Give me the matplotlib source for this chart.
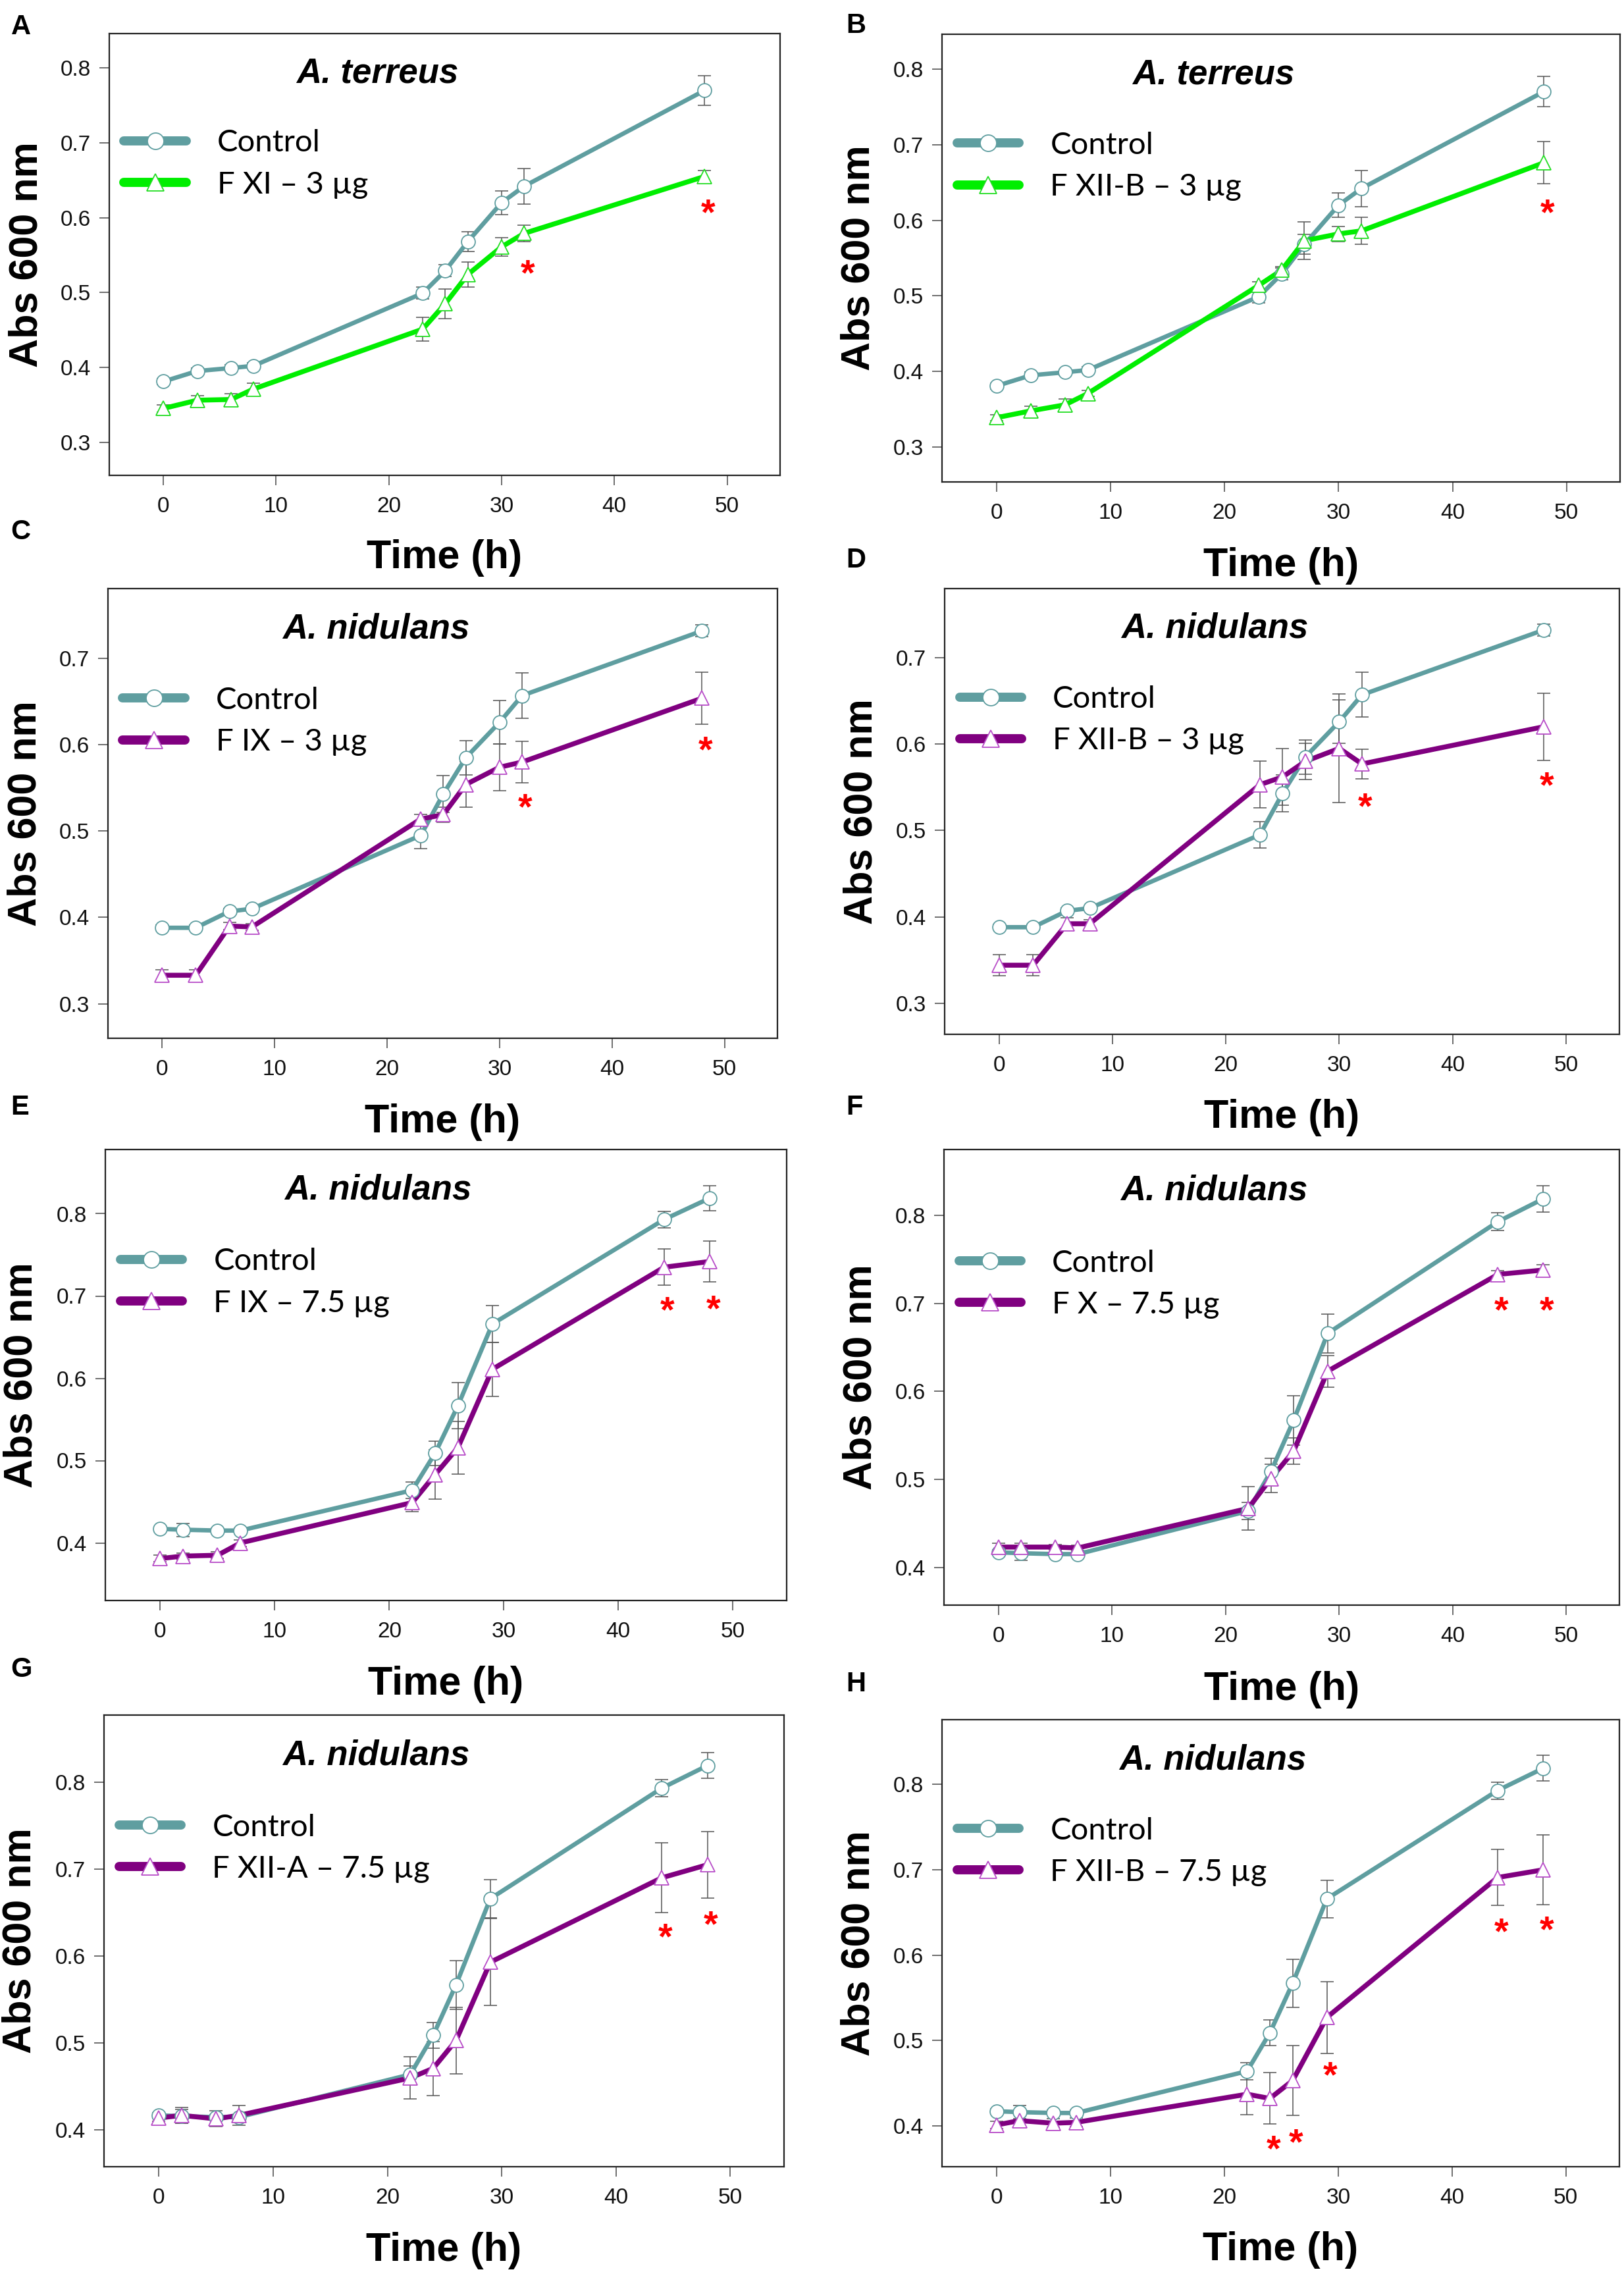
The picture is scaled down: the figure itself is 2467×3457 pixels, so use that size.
import matplotlib
matplotlib.use("Agg")
import matplotlib.pyplot as plt
from matplotlib.lines import Line2D

# ---------------- data ----------------
time_ab = [0, 3, 6, 8, 23, 25, 27, 30, 32, 48]
time_cd = [0, 3, 6, 8, 23, 25, 27, 30, 32, 48]
time_eh = [0, 2, 5, 7, 22, 24, 26, 29, 44, 48]

control_ab = [0.381, 0.395, 0.399, 0.402, 0.499, 0.529, 0.568, 0.620, 0.642, 0.770]
control_ab_err = [0.004, 0.004, 0.004, 0.004, 0.008, 0.008, 0.013, 0.016, 0.024, 0.020]

control_cd = [0.388, 0.388, 0.407, 0.410, 0.495, 0.543, 0.585, 0.626, 0.657, 0.732]
control_cd_err = [0.003, 0.003, 0.003, 0.003, 0.015, 0.021, 0.020, 0.025, 0.026, 0.007]

control_eh = [0.417, 0.416, 0.415, 0.415, 0.464, 0.509, 0.567, 0.666, 0.793, 0.819]
control_eh_err = [0.003, 0.008, 0.003, 0.003, 0.010, 0.015, 0.028, 0.022, 0.010, 0.015]

fxi_3 = [0.345, 0.356, 0.357, 0.371, 0.451, 0.485, 0.524, 0.561, 0.579, 0.655]
fxi_3_err = [0.005, 0.006, 0.008, 0.008, 0.016, 0.020, 0.017, 0.012, 0.011, 0.008]

fxiib_3_at = [0.339, 0.348, 0.356, 0.371, 0.514, 0.534, 0.573, 0.582, 0.586, 0.676]
fxiib_3_at_err = [0.004, 0.006, 0.008, 0.004, 0.005, 0.005, 0.025, 0.010, 0.018, 0.028]

fix_3 = [0.333, 0.333, 0.390, 0.389, 0.514, 0.519, 0.554, 0.574, 0.580, 0.654]
fix_3_err = [0.006, 0.006, 0.004, 0.004, 0.005, 0.009, 0.026, 0.027, 0.024, 0.030]

fxiib_3_an = [0.344, 0.344, 0.392, 0.392, 0.553, 0.562, 0.580, 0.595, 0.577, 0.620]
fxiib_3_an_err = [0.012, 0.012, 0.007, 0.005, 0.027, 0.033, 0.021, 0.063, 0.017, 0.039]

fix_75 = [0.381, 0.384, 0.385, 0.400, 0.449, 0.483, 0.516, 0.611, 0.735, 0.742]
fix_75_err = [0.004, 0.004, 0.004, 0.004, 0.011, 0.030, 0.032, 0.033, 0.022, 0.025]

fx_75 = [0.423, 0.423, 0.423, 0.422, 0.467, 0.501, 0.532, 0.623, 0.733, 0.738]
fx_75_err = [0.004, 0.004, 0.003, 0.003, 0.025, 0.016, 0.015, 0.018, 0.004, 0.006]

fxiia_75 = [0.414, 0.417, 0.413, 0.417, 0.460, 0.471, 0.503, 0.593, 0.690, 0.705]
fxiia_75_err = [0.004, 0.009, 0.009, 0.011, 0.024, 0.031, 0.038, 0.050, 0.040, 0.038]

fxiib_75 = [0.401, 0.406, 0.403, 0.404, 0.437, 0.432, 0.453, 0.527, 0.691, 0.700]
fxiib_75_err = [0.004, 0.007, 0.005, 0.005, 0.024, 0.030, 0.041, 0.042, 0.033, 0.041]

# significance asterisks (time, height)
ast_a_x = [32, 48]; ast_a_y = [0.538, 0.619]
ast_b_x = [48]; ast_b_y = [0.623]
ast_c_x = [32, 48]; ast_c_y = [0.539, 0.605]
ast_d_x = [32, 48]; ast_d_y = [0.539, 0.563]
ast_e_x = [44, 48]; ast_e_y = [0.694, 0.696]
ast_f_x = [44, 48]; ast_f_y = [0.703, 0.703]
ast_g_x = [44, 48]; ast_g_y = [0.633, 0.647]
ast_h_x = [24, 26, 29, 44, 48]; ast_h_y = [0.384, 0.392, 0.470, 0.639, 0.641]

panel_letters = ["A", "B", "C", "D", "E", "F", "G", "H"]
species = ["A. terreus", "A. terreus", "A. nidulans", "A. nidulans",
           "A. nidulans", "A. nidulans", "A. nidulans", "A. nidulans"]
treat_labels = ["F XI \u2013 3 \u00b5g", "F XII-B \u2013 3 \u00b5g", "F IX \u2013 3 \u00b5g",
                "F XII-B \u2013 3 \u00b5g", "F IX \u2013 7.5 \u00b5g", "F X \u2013 7.5 \u00b5g",
                "F XII-A \u2013 7.5 \u00b5g", "F XII-B \u2013 7.5 \u00b5g"]
yticks_ab = [0.3, 0.4, 0.5, 0.6, 0.7, 0.8]
yticks_cd = [0.3, 0.4, 0.5, 0.6, 0.7]
yticks_eh = [0.4, 0.5, 0.6, 0.7, 0.8]
xticks = [0, 10, 20, 30, 40, 50]

# ---------------- style ----------------
TEAL = "#5F9EA0"
GREEN = "#00EE00"
GREEN_EDGE = "#22DD22"
PURPLE = "#800080"
PURPLE_EDGE = "#B84CC8"

W, H = 2467, 3457
# axes boxes in pixels: left, top, right, bottom
boxes = [
    (166, 51, 1185, 722), (1431, 52, 2461, 732),
    (164, 894, 1181, 1577), (1435, 894, 2460, 1571),
    (160, 1746, 1195, 2431), (1434, 1746, 2460, 2438),
    (158, 2605, 1191, 3291), (1431, 2612, 2460, 3291),
]
ylims = [(0.2556, 0.846), (0.254, 0.846), (0.26, 0.781), (0.264, 0.78),
         (0.330, 0.878), (0.357, 0.875), (0.358, 0.877), (0.352, 0.876)]
letter_pos = [(17, 52), (1285, 50), (16, 819), (1285, 862),
              (16, 1693), (1285, 1693), (16, 2547), (1285, 2569)]

panels = [
    (time_ab, control_ab, control_ab_err, fxi_3, fxi_3_err, GREEN, GREEN_EDGE, yticks_ab, ast_a_x, ast_a_y),
    (time_ab, control_ab, control_ab_err, fxiib_3_at, fxiib_3_at_err, GREEN, GREEN_EDGE, yticks_ab, ast_b_x, ast_b_y),
    (time_cd, control_cd, control_cd_err, fix_3, fix_3_err, PURPLE, PURPLE_EDGE, yticks_cd, ast_c_x, ast_c_y),
    (time_cd, control_cd, control_cd_err, fxiib_3_an, fxiib_3_an_err, PURPLE, PURPLE_EDGE, yticks_cd, ast_d_x, ast_d_y),
    (time_eh, control_eh, control_eh_err, fix_75, fix_75_err, PURPLE, PURPLE_EDGE, yticks_eh, ast_e_x, ast_e_y),
    (time_eh, control_eh, control_eh_err, fx_75, fx_75_err, PURPLE, PURPLE_EDGE, yticks_eh, ast_f_x, ast_f_y),
    (time_eh, control_eh, control_eh_err, fxiia_75, fxiia_75_err, PURPLE, PURPLE_EDGE, yticks_eh, ast_g_x, ast_g_y),
    (time_eh, control_eh, control_eh_err, fxiib_75, fxiib_75_err, PURPLE, PURPLE_EDGE, yticks_eh, ast_h_x, ast_h_y),
]

plt.rcParams["font.family"] = ["Liberation Sans", "DejaVu Sans"]
fig = plt.figure(figsize=(W / 100, H / 100), dpi=100)

AST_FS = 40
for i, (t, ctrl, cerr, trt, terr, col, ecol, yt, ax_x, ax_y) in enumerate(panels):
    l, tp, r, b = boxes[i]
    ax = fig.add_axes([l / W, 1 - b / H, (r - l) / W, (b - tp) / H])
    ax.set_xlim(-4.8, 54.7)
    ax.set_ylim(*ylims[i])
    ax.set_xticks(xticks)
    ax.set_yticks(yt)
    ax.set_yticklabels([f"{v:.1f}" for v in yt])
    for s in ax.spines.values():
        s.set_linewidth(1.6)
        s.set_color("#222222")
    ax.tick_params(axis="both", which="major", direction="out", length=11, width=1.2,
                   color="#555555", labelsize=24, labelcolor="#111111")
    ax.tick_params(axis="x", pad=12)
    ax.tick_params(axis="y", pad=9)

    # error bars
    ax.errorbar(t, ctrl, yerr=cerr, fmt="none", ecolor="#555555", elinewidth=1.1,
                capsize=7, capthick=1.1, zorder=2)
    ax.errorbar(t, trt, yerr=terr, fmt="none", ecolor="#555555", elinewidth=1.1,
                capsize=7, capthick=1.1, zorder=2)
    # lines + markers
    ax.plot(t, ctrl, color=TEAL, lw=4.8, solid_joinstyle="round", zorder=3)
    ax.plot(t, trt, color=col, lw=5.4, solid_joinstyle="round", zorder=3)
    ax.plot(t, ctrl, ls="none", marker="o", ms=15, mfc="white", mec=TEAL, mew=1.3, zorder=4)
    ax.plot(t, trt, ls="none", marker="^", ms=16, mfc="white", mec=ecol, mew=1.3, zorder=5)

    # significance asterisks
    for xx, yy in zip(ax_x, ax_y):
        ax.annotate("*", xy=(xx + 0.3, yy), xytext=(0, -0.57 * AST_FS), textcoords="offset points",
                    ha="center", va="baseline", color="red", fontsize=AST_FS, fontweight="bold",
                    zorder=6)

    # species title
    ax.text(0.40, 0.91, species[i], transform=ax.transAxes, ha="center", va="center",
            fontsize=38, fontweight="bold", fontstyle="italic")

    # legend
    h1 = Line2D([], [], color=TEAL, lw=10, solid_capstyle="round", marker="o", ms=18,
                mfc="white", mec=TEAL, mew=1.3)
    h2 = Line2D([], [], color=col, lw=10, solid_capstyle="round", marker="^", ms=19,
                mfc="white", mec=ecol, mew=1.3)
    leg = ax.legend([h1, h2], ["Control", treat_labels[i]], loc="center left",
                    bbox_to_anchor=(0.022, 0.705), frameon=False, numpoints=1,
                    handlelength=2.0, handletextpad=1.0, labelspacing=0.45,
                    borderpad=0, borderaxespad=0,
                    prop={"family": ["Lato", "DejaVu Sans"], "size": 34})

    ax.set_xlabel("Time (h)", fontsize=44, fontweight="bold")
    ax.xaxis.set_label_coords(0.5, -0.145)
    ax.set_ylabel("Abs 600 nm", fontsize=44, fontweight="bold")
    ax.yaxis.set_label_coords(-0.095, 0.5)

    lx, ly = letter_pos[i]
    fig.text(lx / W, 1 - ly / H, panel_letters[i], fontsize=30, fontweight="bold",
             ha="left", va="baseline")

fig.savefig("out.png", dpi=100)
